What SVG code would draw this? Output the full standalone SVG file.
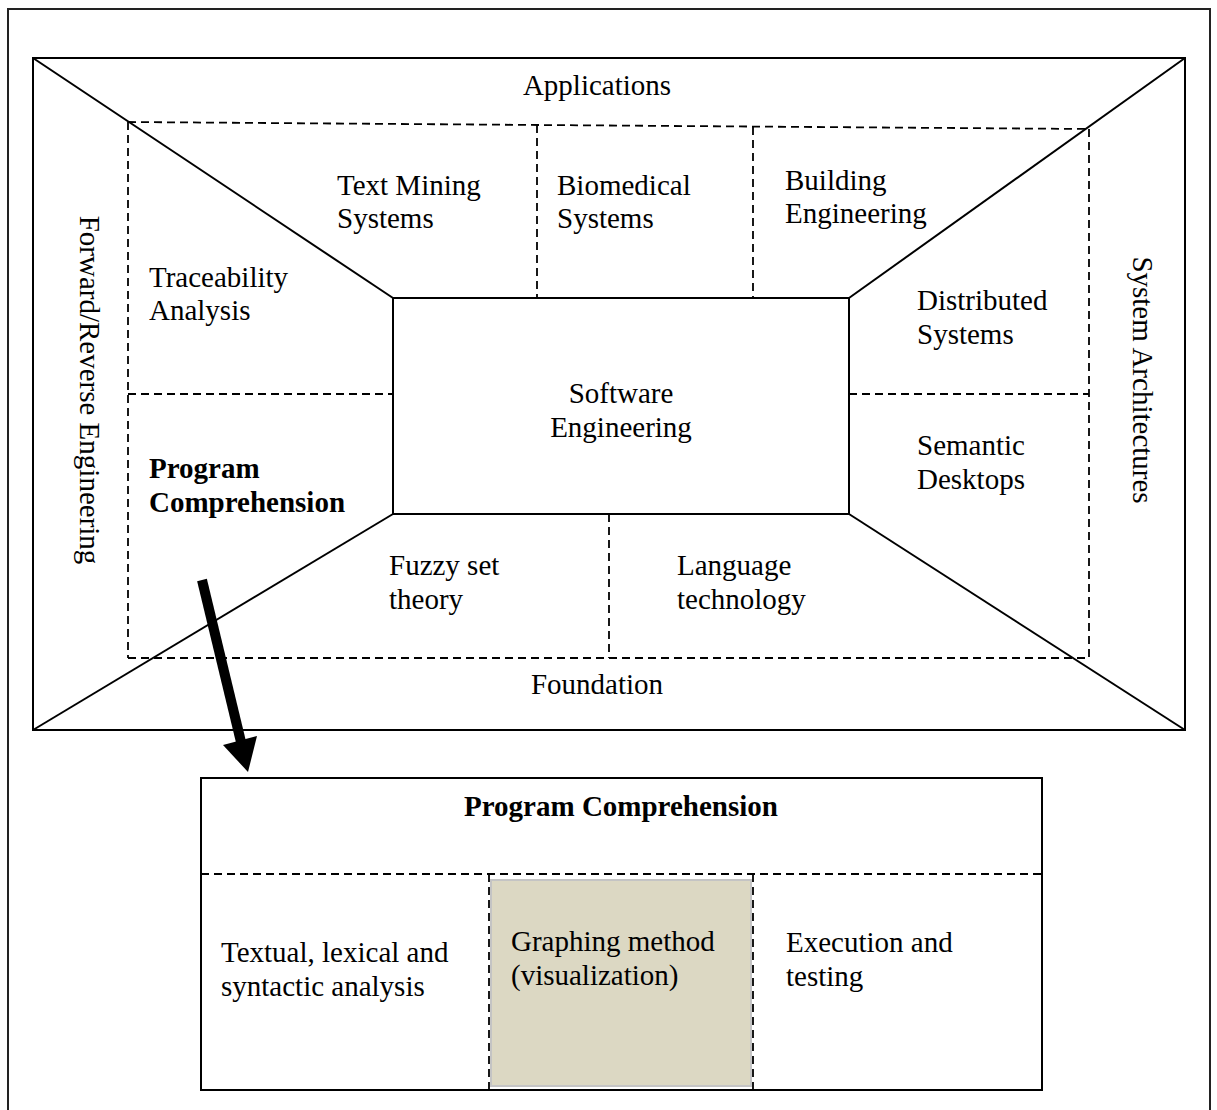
<svg xmlns="http://www.w3.org/2000/svg" width="1217" height="1110" viewBox="0 0 1217 1110">
<style>
.t{font-family:"Liberation Serif","Times New Roman",serif;font-size:29px;fill:#000}
.b{font-weight:bold}
.s{fill:none;stroke:#000;stroke-width:2}
.d{fill:none;stroke:#000;stroke-width:1.8;stroke-dasharray:8 5}
</style>
<rect x="0" y="0" width="1217" height="1110" fill="#fff"/>
<rect x="8" y="9" width="1202" height="1120" fill="none" stroke="#222" stroke-width="2"/>
<g id="frame">
<rect class="s" x="33" y="58" width="1152" height="672"/>
<line class="s" x1="33" y1="58" x2="393" y2="298"/>
<line class="s" x1="1185" y1="58" x2="849" y2="298"/>
<line class="s" x1="33" y1="730" x2="393" y2="514"/>
<line class="s" x1="1185" y1="730" x2="849" y2="514"/>
</g>
<g id="dashed-grid">
<line class="d" x1="128" y1="122" x2="1089" y2="129"/>
<line class="d" x1="128" y1="658" x2="1089" y2="658"/>
<line class="d" x1="128" y1="122" x2="128" y2="658"/>
<line class="d" x1="1089" y1="129" x2="1089" y2="658"/>
<line class="d" x1="537" y1="125" x2="537" y2="298"/>
<line class="d" x1="753" y1="127" x2="753" y2="298"/>
<line class="d" x1="609" y1="514" x2="609" y2="658"/>
<line class="d" x1="128" y1="394" x2="393" y2="394"/>
<line class="d" x1="849" y1="394" x2="1089" y2="394"/>
</g>
<g id="software-engineering">
<rect class="s" x="393" y="298" width="456" height="216" fill="#fff"/>
<text class="t" x="621" y="403" text-anchor="middle">Software</text>
<text class="t" x="621" y="437" text-anchor="middle">Engineering</text>
</g>
<g id="applications"><text class="t" x="597" y="95" text-anchor="middle">Applications</text></g>
<g id="foundation"><text class="t" x="597" y="694" text-anchor="middle">Foundation</text></g>
<g id="forward-reverse"><text class="t" transform="translate(80,390) rotate(90)" text-anchor="middle">Forward/Reverse Engineering</text></g>
<g id="system-architectures"><text class="t" transform="translate(1133,380) rotate(90)" text-anchor="middle">System Architectures</text></g>
<g id="text-mining"><text class="t" x="337" y="195">Text Mining</text><text class="t" x="337" y="228">Systems</text></g>
<g id="biomedical"><text class="t" x="557" y="195">Biomedical</text><text class="t" x="557" y="228">Systems</text></g>
<g id="building"><text class="t" x="785" y="190">Building</text><text class="t" x="785" y="223">Engineering</text></g>
<g id="traceability"><text class="t" x="149" y="287">Traceability</text><text class="t" x="149" y="320">Analysis</text></g>
<g id="distributed"><text class="t" x="917" y="310">Distributed</text><text class="t" x="917" y="344">Systems</text></g>
<g id="semantic"><text class="t" x="917" y="455">Semantic</text><text class="t" x="917" y="489">Desktops</text></g>
<g id="program-comprehension"><text class="t b" x="149" y="478">Program</text><text class="t b" x="149" y="512">Comprehension</text></g>
<g id="fuzzy"><text class="t" x="389" y="575">Fuzzy set</text><text class="t" x="389" y="609">theory</text></g>
<g id="language"><text class="t" x="677" y="575">Language</text><text class="t" x="677" y="609">technology</text></g>
<g id="connectors">
<line x1="202" y1="580" x2="241" y2="742" stroke="#000" stroke-width="10"/>
<polygon points="248,772 223,745 257,736" fill="#000"/>
</g>
<g id="program-comprehension-detail">
<rect class="s" x="201" y="778" width="841" height="312" fill="#fff"/>
<rect x="491" y="880" width="260" height="206" fill="#dcd8c3" stroke="#c4c4c4" stroke-width="2"/>
<line class="d" x1="201" y1="874" x2="1042" y2="874"/>
<line class="d" x1="489" y1="874" x2="489" y2="1090"/>
<line class="d" x1="753" y1="874" x2="753" y2="1090"/>
<text class="t b" x="621" y="816" text-anchor="middle">Program Comprehension</text>
<g id="textual"><text class="t" x="221" y="962">Textual, lexical and</text><text class="t" x="221" y="996">syntactic analysis</text></g>
<g id="graphing"><text class="t" x="511" y="951">Graphing method</text><text class="t" x="511" y="985">(visualization)</text></g>
<g id="execution"><text class="t" x="786" y="952">Execution and</text><text class="t" x="786" y="986">testing</text></g>
</g>
</svg>
